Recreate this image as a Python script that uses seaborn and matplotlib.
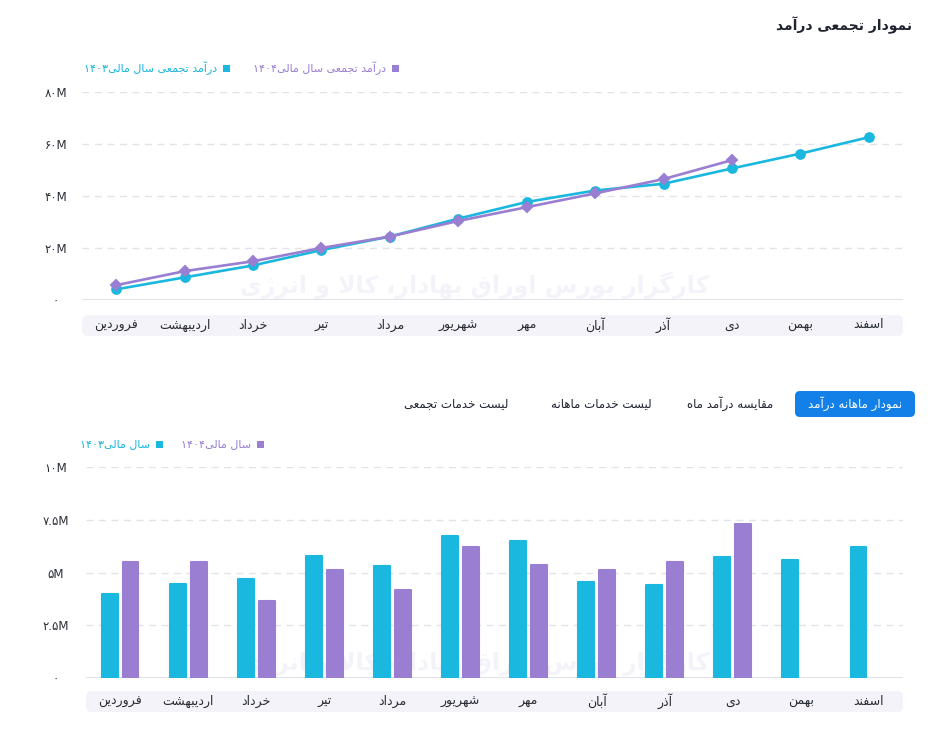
import matplotlib
matplotlib.use("Agg")
import matplotlib.pyplot as plt
import pandas as pd
import seaborn as sns
from matplotlib.colors import to_hex
from matplotlib.patches import FancyBboxPatch, Rectangle
from matplotlib.transforms import Affine2D


MONTHS = ["فروردین", "اردیبهشت", "خرداد", "تیر", "مرداد", "شهریور",
          "مهر", "آبان", "آذر", "دی", "بهمن", "اسفند"]
YEARS = ["1403", "1404"]

# cumulative revenue, millions
CUM_1403 = [4.1, 8.7, 13.3, 19.2, 24.4, 31.3, 37.7, 42.1, 44.7, 50.6, 56.3, 62.6]
CUM_1404 = [5.7, 11.1, 14.9, 20.0, 24.4, 30.4, 35.7, 41.0, 46.5, 53.8, None, None]

# monthly revenue, millions
MONTHLY_1403 = [3.98, 4.45, 4.69, 5.78, 5.31, 6.73, 6.50, 4.53, 4.41, 5.74, 5.59, 6.21]
MONTHLY_1404 = [5.50, 5.50, 3.65, 5.12, 4.17, 6.21, 5.36, 5.12, 5.50, 7.31, None, None]

TOP_TICKS = [0, 20, 40, 60, 80]
TOP_TICK_LABELS = ["۰", "۲۰M", "۴۰M", "۶۰M", "۸۰M"]
BAR_TICKS = [0, 2.5, 5, 7.5, 10]
BAR_TICK_LABELS = ["۰", "۲.۵M", "۵M", "۷.۵M", "۱۰M"]

TITLE = "نمودار تجمعی درآمد"
TOP_LEGEND = ["درآمد تجمعی سال مالی۱۴۰۳", "درآمد تجمعی سال مالی۱۴۰۴"]
BAR_LEGEND = ["سال مالی۱۴۰۳", "سال مالی۱۴۰۴"]
TABS = ["نمودار ماهانه درآمد", "مقایسه درآمد ماه", "لیست خدمات ماهانه", "لیست خدمات تجمعی"]
WATERMARK = "کارگزار بورس اوراق بهادار، کالا و انرژی"

CYAN = "#1ab7de"
PURPLE = "#9a7ed2"
GRID = "#e2e2ea"
BAND = "#f4f3fa"
TEXT = "#2a2d36"

# --- minimal Persian shaping (matplotlib has no complex text layout) ---
FORMS = {
    "آ": ("\uFE81", "\uFE82", None, None),
    "ا": ("\uFE8D", "\uFE8E", None, None),
    "ب": ("\uFE8F", "\uFE90", "\uFE91", "\uFE92"),
    "پ": ("\uFB56", "\uFB57", "\uFB58", "\uFB59"),
    "ت": ("\uFE95", "\uFE96", "\uFE97", "\uFE98"),
    "ث": ("\uFE99", "\uFE9A", "\uFE9B", "\uFE9C"),
    "ج": ("\uFE9D", "\uFE9E", "\uFE9F", "\uFEA0"),
    "چ": ("\uFB7A", "\uFB7B", "\uFB7C", "\uFB7D"),
    "ح": ("\uFEA1", "\uFEA2", "\uFEA3", "\uFEA4"),
    "خ": ("\uFEA5", "\uFEA6", "\uFEA7", "\uFEA8"),
    "د": ("\uFEA9", "\uFEAA", None, None),
    "ذ": ("\uFEAB", "\uFEAC", None, None),
    "ر": ("\uFEAD", "\uFEAE", None, None),
    "ز": ("\uFEAF", "\uFEB0", None, None),
    "ژ": ("\uFB8A", "\uFB8B", None, None),
    "س": ("\uFEB1", "\uFEB2", "\uFEB3", "\uFEB4"),
    "ش": ("\uFEB5", "\uFEB6", "\uFEB7", "\uFEB8"),
    "ص": ("\uFEB9", "\uFEBA", "\uFEBB", "\uFEBC"),
    "ض": ("\uFEBD", "\uFEBE", "\uFEBF", "\uFEC0"),
    "ط": ("\uFEC1", "\uFEC2", "\uFEC3", "\uFEC4"),
    "ظ": ("\uFEC5", "\uFEC6", "\uFEC7", "\uFEC8"),
    "ع": ("\uFEC9", "\uFECA", "\uFECB", "\uFECC"),
    "غ": ("\uFECD", "\uFECE", "\uFECF", "\uFED0"),
    "ف": ("\uFED1", "\uFED2", "\uFED3", "\uFED4"),
    "ق": ("\uFED5", "\uFED6", "\uFED7", "\uFED8"),
    "ک": ("\uFB8E", "\uFB8F", "\uFB90", "\uFB91"),
    "گ": ("\uFB92", "\uFB93", "\uFB94", "\uFB95"),
    "ل": ("\uFEDD", "\uFEDE", "\uFEDF", "\uFEE0"),
    "م": ("\uFEE1", "\uFEE2", "\uFEE3", "\uFEE4"),
    "ن": ("\uFEE5", "\uFEE6", "\uFEE7", "\uFEE8"),
    "ه": ("\uFEE9", "\uFEEA", "\uFEEB", "\uFEEC"),
    "و": ("\uFEED", "\uFEEE", None, None),
    "ی": ("\uFBFC", "\uFBFD", "\uFBFE", "\uFBFF"),
}
LAM_ALEF = {"ا": ("\uFEFB", "\uFEFC"), "آ": ("\uFEF5", "\uFEF6")}
LTR_CHARS = set("0123456789۰۱۲۳۴۵۶۷۸۹.MABCDEFGHIJKLNOPQRSTUVWXYZ")


def joins_forward(c):
    return c in FORMS and FORMS[c][2] is not None


def rtl(text):
    text = text.replace("ي", "ی").replace("ك", "ک").replace("\u200c", "")
    chars = list(text)
    out = []
    i = 0
    while i < len(chars):
        c = chars[i]
        prev = chars[i - 1] if i > 0 else None
        nxt = chars[i + 1] if i + 1 < len(chars) else None
        conn_prev = prev is not None and joins_forward(prev) and c in FORMS
        if c == "ل" and nxt in LAM_ALEF:
            out.append(LAM_ALEF[nxt][1 if conn_prev else 0])
            chars[i + 1] = "\u0000"  # lam-alef does not join forward
            i += 2
            continue
        if c not in FORMS:
            if c != "\u0000":
                out.append(c)
            i += 1
            continue
        conn_next = nxt is not None and nxt in FORMS and joins_forward(c)
        iso, fin, ini, med = FORMS[c]
        if conn_prev and conn_next:
            out.append(med)
        elif conn_prev:
            out.append(fin)
        elif conn_next:
            out.append(ini)
        else:
            out.append(iso)
        i += 1
    # visual order: reverse, but keep number runs left-to-right
    rev = out[::-1]
    result, run = [], []
    for c in rev:
        if c in LTR_CHARS:
            run.append(c)
        else:
            if run:
                result.extend(run[::-1])
                run = []
            result.append(c)
    result.extend(run[::-1])
    return "".join(result)


sns.set_theme(style="white")
plt.rcParams["font.family"] = ["DejaVu Sans"]

W, H = 930, 744
fig = plt.figure(figsize=(W / 100, H / 100), dpi=100, facecolor="white")
PX = Affine2D().scale(0.01, -0.01).translate(0, H / 100) + fig.dpi_scale_trans


def box(ax_px):
    left, top, right, bottom = ax_px
    return [left / W, 1 - bottom / H, (right - left) / W, (bottom - top) / H]


def band(x0, y0, x1, y1, color, radius=6, z=-2):
    fig.patches.append(FancyBboxPatch((x0, y0), x1 - x0, y1 - y0,
                                      boxstyle=f"round,pad=0,rounding_size={radius}",
                                      transform=PX, facecolor=color, edgecolor="none",
                                      zorder=z, figure=fig))


def style_axis(ax, ticks, labels, ymax, ypad, xpad):
    ax.set_facecolor("none")
    ax.set_xlim(-0.5, 11.5)
    ax.set_ylim(0, ymax)
    ax.set_yticks(ticks)
    ax.set_yticklabels(labels)
    ax.set_xticks(range(len(MONTHS)))
    ax.set_xticklabels([rtl(m) for m in MONTHS])
    for t in ax.get_yticklabels():
        t.set_horizontalalignment("center")
    for t in ax.get_xticklabels():
        t.set_verticalalignment("center")
    ax.tick_params(axis="y", length=0, pad=ypad, labelsize=8.5, labelcolor=TEXT)
    ax.tick_params(axis="x", length=0, pad=xpad, labelsize=9, labelcolor=TEXT)
    for s in ax.spines.values():
        s.set_visible(False)
    for v in ticks[1:]:
        ax.axhline(v, color=GRID, lw=1, ls=(0, (5, 4)), zorder=0)
    ax.axhline(0, color="#dcdce6", lw=1.2, zorder=0)
    ax.set_xlabel("")
    ax.set_ylabel("")


def legend_item(x_sq, y, label, color):
    fig.patches.append(Rectangle((x_sq - 3.5, y - 3.5), 7, 7, transform=PX,
                                 facecolor=color, edgecolor="none", figure=fig))
    fig.text(x_sq - 9, y, rtl(label), transform=PX, ha="right", va="center",
             fontsize=8, color=color)


# ---------------- cumulative line chart ----------------
cum_df = pd.DataFrame({
    "month": MONTHS * 2,
    "year": [YEARS[0]] * 12 + [YEARS[1]] * 12,
    "value": CUM_1403 + CUM_1404,
}).dropna()

ax1 = fig.add_axes(box((82, 92, 903, 300)))
sns.pointplot(data=cum_df, x="month", y="value", hue="year", order=MONTHS,
              hue_order=YEARS, palette=[CYAN, PURPLE], markers=["o", "D"],
              linestyles=["-", "-"], errorbar=None, legend=False,
              markersize=5, linewidth=1.9, ax=ax1)
for line in ax1.lines:
    if to_hex(line.get_color()) == CYAN:
        line.set_markersize(6.3)
style_axis(ax1, TOP_TICKS, TOP_TICK_LABELS, 80, 18.7, 18)
band(82, 315, 903, 336, BAND)

fig.text(912, 25, rtl(TITLE), transform=PX, ha="right", va="center",
         fontsize=10, fontweight="bold", color="#1f2330")
legend_item(226, 68, TOP_LEGEND[0], CYAN)
legend_item(395, 68, TOP_LEGEND[1], PURPLE)
fig.text(475, 285, rtl(WATERMARK), transform=PX, ha="center", va="center",
         fontsize=17, fontweight="bold", color="#f4f3f9", zorder=-1)

# ---------------- tabs ----------------
band(795, 391, 915, 417, "#1380e8", radius=5, z=1)
fig.text(855, 404, rtl(TABS[0]), transform=PX, ha="center", va="center",
         fontsize=8.5, color="white")
for cx, label in zip([730, 601, 456], TABS[1:]):
    fig.text(cx, 404, rtl(label), transform=PX, ha="center", va="center",
             fontsize=8.5, color="#1f2330")

# ---------------- monthly bar chart ----------------
bar_df = pd.DataFrame({
    "month": MONTHS * 2,
    "year": [YEARS[0]] * 12 + [YEARS[1]] * 12,
    "value": MONTHLY_1403 + MONTHLY_1404,
}).dropna()

ax2 = fig.add_axes(box((86, 467, 903, 678)))
sns.barplot(data=bar_df, x="month", y="value", hue="year", order=MONTHS,
            hue_order=YEARS, palette=[CYAN, PURPLE], width=0.616, gap=0.24,
            errorbar=None, legend=False, saturation=1, ax=ax2)
for p in ax2.patches:
    p.set_edgecolor(p.get_facecolor())
    p.set_linewidth(1.5)
    p.set_joinstyle("round")
    p.set_zorder(2)
style_axis(ax2, BAR_TICKS, BAR_TICK_LABELS, 10, 21.6, 16.6)
band(86, 691, 903, 712, BAND)

legend_item(159, 444, BAR_LEGEND[0], CYAN)
legend_item(260, 444, BAR_LEGEND[1], PURPLE)
fig.text(475, 662, rtl(WATERMARK), transform=PX, ha="center", va="center",
         fontsize=17, fontweight="bold", color="#f4f3f9", zorder=-1)

fig.savefig("out.png", dpi=100, facecolor="white")
